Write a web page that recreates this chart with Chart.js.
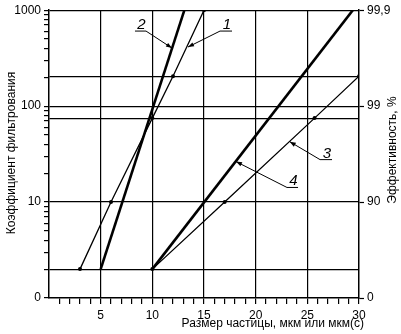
<!DOCTYPE html>
<html>
<head>
<meta charset="utf-8">
<script src="https://cdn.jsdelivr.net/npm/chart.js@4.4.1/dist/chart.umd.min.js"></script>
<style>
  html, body { margin: 0; padding: 0; background: #fff; }
</style>
</head>
<body>
<canvas id="chart" width="401" height="334"></canvas>
<script>
// Curve data: particle size (x) vs filtration factor (y, log)
const curve1X = [3, 6, 10, 12, 15];
const curve1Y = [2, 10, 75, 205, 1000];
const curve2X = [5, 13.1];
const curve2Y = [2, 1000];
const curve3X = [10, 17, 25.7, 30];
const curve3Y = [2, 10, 75, 205];
const curve4X = [10, 29.4];
const curve4Y = [2, 1000];

const xLabelValues = [5, 10, 15, 20, 25, 30];
const vLines = [5, 10, 15, 20, 25];
const hLines = [2, 10, 75, 100, 205, 1000];
const leftTickLabels = { 1: '0', 10: '10', 100: '100', 1000: '1000' };
const rightTickLabels = { 1: '0', 10: '90', 100: '99', 1000: '99,9' };

// callouts: number, arrow tip (data coords), underline [x0, x1, y]
const callouts = [
  { text: '1', tip: [13.45, 413], bar: [16.55, 17.71, 606], from: 'left' },
  { text: '2', tip: [11.9, 403], bar: [8.32, 9.39, 606], from: 'right' },
  { text: '3', tip: [23.3, 42.6], bar: [26.23, 27.39, 27.7], from: 'left' },
  { text: '4', tip: [18.1, 26.4], bar: [23.03, 24.1, 14.2], from: 'left' }
];

const FONT = '"Liberation Sans", Arial, sans-serif';
const zip = (xs, ys) => xs.map((x, i) => ({ x, y: ys[i] }));

const minorLog = [];
[1, 10, 100].forEach(d => { for (let k = 1; k <= 9; k++) minorLog.push(d * k); });
minorLog.push(1000);
const leftTicks = Array.from(new Set(minorLog.concat(hLines))).sort((a, b) => a - b);

function lineSet(data, width, radius) {
  return {
    type: 'line', data, borderColor: '#000', borderWidth: width,
    pointRadius: radius, pointBackgroundColor: '#000', pointBorderWidth: 0,
    pointHoverRadius: radius, tension: 0, fill: false
  };
}

const decorations = {
  id: 'decorations',
  afterDraw(chart) {
    const ctx = chart.ctx;
    const xs = chart.scales.x, ys = chart.scales.y;
    ctx.save();
    ctx.fillStyle = '#000';
    ctx.strokeStyle = '#000';

    // axis titles
    ctx.font = '12px ' + FONT;
    ctx.textBaseline = 'middle';
    ctx.textAlign = 'right';
    ctx.fillText('Размер частицы, мкм или мкм(с)', 364, 324);
    ctx.textAlign = 'center';
    ctx.save();
    ctx.translate(12, 153);
    ctx.rotate(-Math.PI / 2);
    ctx.fillText('Коэффициент фильтрования', 0, 0);
    ctx.restore();
    ctx.save();
    ctx.translate(393, 150);
    ctx.rotate(-Math.PI / 2);
    ctx.fillText('Эффективность, %', 0, 0);
    ctx.restore();

    // callouts
    ctx.font = 'italic 15px ' + FONT;
    ctx.textBaseline = 'alphabetic';
    ctx.lineWidth = 1;
    callouts.forEach(c => {
      const bx0 = xs.getPixelForValue(c.bar[0]);
      const bx1 = xs.getPixelForValue(c.bar[1]);
      const by = ys.getPixelForValue(c.bar[2]);
      const tx = xs.getPixelForValue(c.tip[0]);
      const ty = ys.getPixelForValue(c.tip[1]);
      const sx = c.from === 'left' ? bx0 : bx1;
      ctx.beginPath();
      ctx.moveTo(bx0, by); ctx.lineTo(bx1, by);
      ctx.moveTo(sx, by); ctx.lineTo(tx, ty);
      ctx.stroke();
      const a = Math.atan2(ty - by, tx - sx);
      const L = 6, W = 2.2;
      ctx.beginPath();
      ctx.moveTo(tx, ty);
      ctx.lineTo(tx - L * Math.cos(a) + W * Math.sin(a), ty - L * Math.sin(a) - W * Math.cos(a));
      ctx.lineTo(tx - L * Math.cos(a) - W * Math.sin(a), ty - L * Math.sin(a) + W * Math.cos(a));
      ctx.closePath();
      ctx.fill();
      ctx.textAlign = 'center';
      ctx.fillText(c.text, (bx0 + bx1) / 2 + 1, by - 2);
    });
    ctx.restore();
  }
};

new Chart(document.getElementById('chart'), {
  data: {
    datasets: [
      lineSet(zip(curve1X, curve1Y), 1.3, 2),
      lineSet(zip(curve2X, curve2Y), 2.6, 0),
      lineSet(zip(curve3X, curve3Y), 1.3, [2, 2, 2, 2]),
      lineSet(zip(curve4X, curve4Y), 2.6, 0)
    ]
  },
  options: {
    responsive: false,
    devicePixelRatio: 1,
    animation: false,
    events: [],
    layout: { padding: { top: 9, left: 0, right: 0, bottom: 0 } },
    plugins: { legend: { display: false }, tooltip: { enabled: false } },
    scales: {
      x: {
        type: 'linear', min: 0, max: 30,
        afterFit: s => { s.height = 36; },
        afterBuildTicks: s => { s.ticks = Array.from({ length: 31 }, (_, i) => ({ value: i })); },
        border: { color: '#000', width: 1.5 },
        grid: {
          color: c => vLines.includes(c.tick && c.tick.value) ? '#000' : 'rgba(0,0,0,0)',
          lineWidth: 1.2,
          tickColor: c => (c.tick && c.tick.value > 0) ? '#000' : 'rgba(0,0,0,0)',
          tickLength: 6, tickWidth: 1.2
        },
        ticks: {
          autoSkip: false, maxRotation: 0, padding: 4,
          color: '#000', font: { family: FONT, size: 12 },
          callback: v => xLabelValues.includes(v) ? String(v) : ''
        }
      },
      y: {
        type: 'logarithmic', position: 'left', min: 1, max: 1000,
        afterFit: s => { s.width = 49; },
        afterBuildTicks: s => { s.ticks = leftTicks.map(v => ({ value: v })); },
        border: { color: '#000', width: 1.5 },
        grid: {
          color: c => hLines.includes(c.tick && c.tick.value) ? '#000' : 'rgba(0,0,0,0)',
          lineWidth: 1.2,
          tickColor: c => minorLog.includes(c.tick && c.tick.value) ? '#000' : 'rgba(0,0,0,0)',
          tickLength: 5, tickWidth: 1.2
        },
        ticks: {
          autoSkip: false, padding: 3,
          color: '#000', font: { family: FONT, size: 12 },
          callback: v => leftTickLabels[v] || ''
        }
      },
      y2: {
        type: 'logarithmic', position: 'right', min: 1, max: 1000,
        afterFit: s => { s.width = 42; },
        afterBuildTicks: s => { s.ticks = [1, 10, 100, 1000].map(v => ({ value: v })); },
        border: { color: '#000', width: 1.5 },
        grid: { drawOnChartArea: false, color: '#000', tickColor: '#000', tickLength: 5, tickWidth: 1.2 },
        ticks: {
          autoSkip: false, padding: 3,
          color: '#000', font: { family: FONT, size: 12 },
          callback: v => rightTickLabels[v] || ''
        }
      }
    }
  },
  plugins: [decorations]
});
</script>
</body>
</html>
